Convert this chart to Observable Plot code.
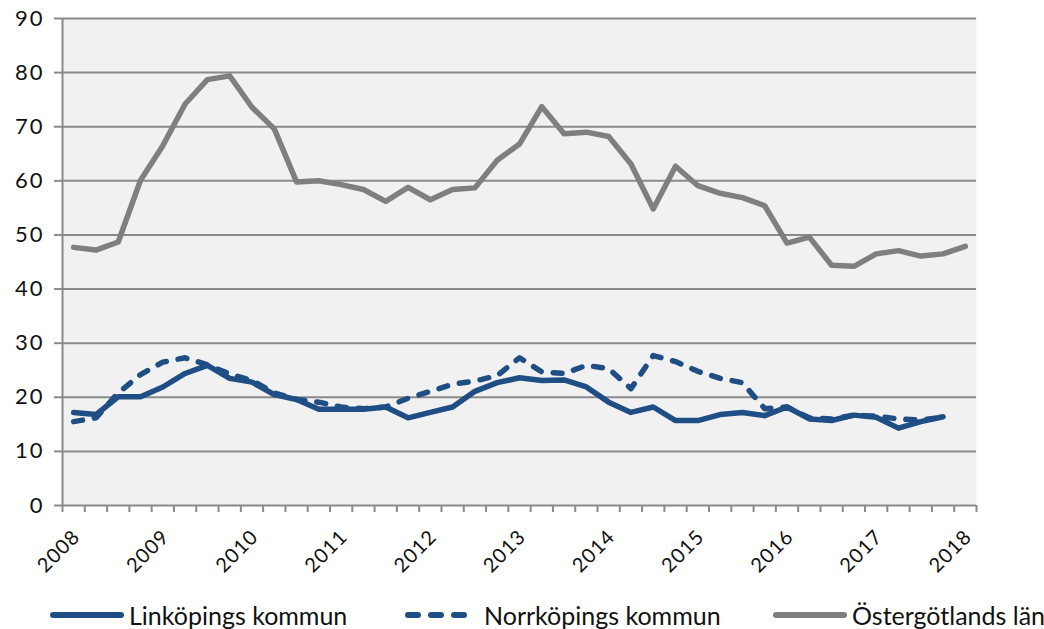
<!DOCTYPE html>
<html>
<head>
<meta charset="utf-8">
<script src="https://cdn.jsdelivr.net/npm/d3@7"></script>
<script src="https://cdn.jsdelivr.net/npm/@observablehq/plot@0.6"></script>
<style>
  html, body { margin: 0; padding: 0; background: #fff; }
  #wrap { position: relative; width: 1044px; height: 629px; }
  #legend { position: relative; width: 1044px; height: 29px; font-family: Lato, "Open Sans", sans-serif; font-size: 25px; color: #111; }
  .item { position: absolute; top: 0; height: 29px; display: flex; align-items: center; white-space: nowrap; }
  .item svg { margin-right: 5px; }
  #chart svg text { letter-spacing: 2px; }
  #chart svg g.xlab text { letter-spacing: 1px; }
</style>
</head>
<body>
<div id="wrap">
  <div id="chart"></div>
  <div id="legend"></div>
</div>
<script>
// Quarterly categories 2008Q1 .. 2018Q1 (41 categories)
const yearLabels = ["2008","2009","2010","2011","2012","2013","2014","2015","2016","2017","2018"];
const seriesNames = ["Linköpings kommun", "Norrköpings kommun", "Östergötlands län"];
const yTicks = [0, 10, 20, 30, 40, 50, 60, 70, 80, 90];

const linkoping = [17.2, 16.8, 20.1, 20.1, 21.9, 24.4, 25.9, 23.5, 22.8, 20.5,
                   19.6, 17.8, 17.8, 17.8, 18.2, 16.2, 17.2, 18.2, 21.1, 22.7,
                   23.6, 23.1, 23.2, 21.9, 19.1, 17.2, 18.2, 15.7, 15.7, 16.8,
                   17.2, 16.6, 18.2, 16.0, 15.7, 16.7, 16.3, 14.3, 15.5, 16.4];
const norrkoping = [15.5, 16.2, 20.8, 24.2, 26.5, 27.3, 26.0, 24.3, 23.1, 20.8,
                    19.6, 19.1, 18.2, 17.9, 18.2, 19.8, 21.1, 22.4, 23.0, 24.0,
                    27.3, 24.7, 24.4, 25.9, 25.3, 21.6, 27.7, 26.6, 24.8, 23.5,
                    22.7, 17.9, 18.2, 16.2, 16.0, 16.7, 16.5, 16.0, 15.8, 16.3];
const ostergotland = [47.7, 47.2, 48.7, 60.1, 66.5, 74.2, 78.7, 79.4, 73.6, 69.6,
                      59.8, 60.0, 59.3, 58.4, 56.2, 58.8, 56.5, 58.4, 58.7, 63.8,
                      66.8, 73.7, 68.7, 69.0, 68.2, 63.1, 54.8, 62.7, 59.1, 57.7,
                      56.9, 55.4, 48.5, 49.6, 44.4, 44.2, 46.5, 47.1, 46.1, 46.5, 47.9];

const nCat = 41;
const blue = "#1f4e85";
const gray = "#7f7f7f";
const gridColor = "#8a8a8a";

const toRows = (arr, name) => arr.map((v, i) => ({i, v, series: name}));
const rowsL = toRows(linkoping, seriesNames[0]);
const rowsN = toRows(norrkoping, seriesNames[1]);
const rowsO = toRows(ostergotland, seriesNames[2]);
const labelRows = yearLabels.map((label, k) => ({i: k * 4, label}));
const boundaries = d3.range(nCat + 1).map(k => k - 0.5);

const chart = Plot.plot({
  width: 1044,
  height: 600,
  marginLeft: 62,
  marginRight: 68,
  marginTop: 18,
  marginBottom: 95,
  style: {fontFamily: "Lato, 'Open Sans', sans-serif", background: "transparent"},
  x: {type: "linear", domain: [-0.5, nCat - 0.5]},
  y: {domain: [0, 90]},
  marks: [
    Plot.frame({fill: "#f1f1f1", stroke: null}),
    Plot.ruleY(yTicks.filter(d => d > 0), {stroke: gridColor, strokeWidth: 2}),
    Plot.axisY({ticks: yTicks, tickSize: 8, tickPadding: 10, stroke: gridColor, strokeWidth: 2,
                fontSize: 22, fill: "#111", label: null, tickFormat: d => String(d)}),
    Plot.axisX({ticks: boundaries, tickSize: 7, stroke: gridColor, strokeWidth: 2,
                tickFormat: () => "", label: null}),
    Plot.ruleY([0], {stroke: gridColor, strokeWidth: 2}),
    Plot.ruleX([-0.5], {stroke: gridColor, strokeWidth: 2}),
    Plot.text(labelRows, {x: "i", text: "label", frameAnchor: "bottom", dy: 28, dx: 3,
                          rotate: -45, textAnchor: "end", lineAnchor: "middle", fontSize: 20, fill: "#111",
                          className: "xlab"}),
    Plot.lineY(rowsO, {x: "i", y: "v", stroke: gray, strokeWidth: 5.5}),
    Plot.lineY(rowsN, {x: "i", y: "v", stroke: blue, strokeWidth: 5.5, strokeDasharray: "9,12", strokeLinecap: "round"}),
    Plot.lineY(rowsL, {x: "i", y: "v", stroke: blue, strokeWidth: 5.5})
  ]
});
document.getElementById("chart").appendChild(chart);

// Legend
const legendItems = [
  {name: seriesNames[0], color: blue, dash: null, left: 50},
  {name: seriesNames[1], color: blue, dash: "10,13", left: 405},
  {name: seriesNames[2], color: gray, dash: null, left: 773}
];
const legend = d3.select("#legend");
legendItems.forEach(it => {
  const div = legend.append("div").attr("class", "item").style("left", it.left + "px");
  const sw = div.append("svg").attr("width", 74).attr("height", 10);
  const ln = sw.append("line").attr("x1", 3).attr("x2", 71).attr("y1", 5).attr("y2", 5)
    .attr("stroke", it.color).attr("stroke-width", 6).attr("stroke-linecap", "round");
  if (it.dash) ln.attr("stroke-dasharray", it.dash);
  div.append("span").text(it.name);
});
</script>
</body>
</html>
